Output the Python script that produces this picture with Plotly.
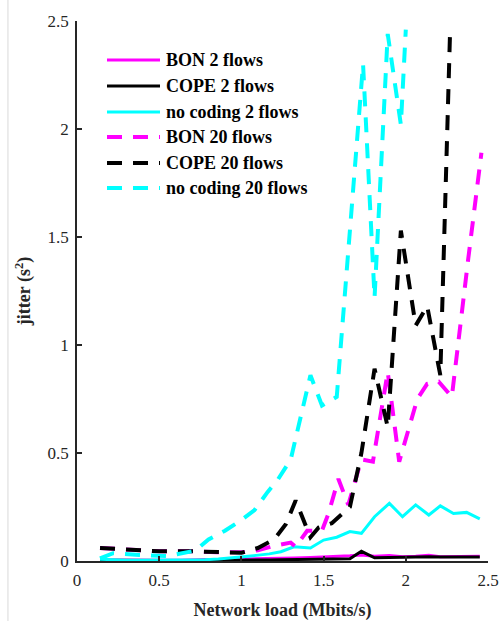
import plotly.graph_objects as go

# ---- data ----
x_2flows = [0.14, 0.22, 0.30, 0.38, 0.46, 0.54, 0.62, 0.70, 0.78, 0.86, 0.93, 1.01, 1.09, 1.17, 1.24,
            1.32, 1.42, 1.50, 1.58, 1.66, 1.73, 1.81, 1.90, 1.98, 2.06, 2.14, 2.21, 2.29, 2.37, 2.45]
bon_2 = [0.005, 0.004, 0.003, 0.003, 0.003, 0.003, 0.003, 0.004, 0.004, 0.005, 0.006, 0.007, 0.009, 0.010, 0.012,
         0.014, 0.016, 0.018, 0.020, 0.024, 0.028, 0.022, 0.025, 0.020, 0.022, 0.026, 0.020, 0.020, 0.021, 0.022]
cope_2 = [0.004, 0.003, 0.002, 0.002, 0.002, 0.002, 0.002, 0.002, 0.002, 0.002, 0.003, 0.003, 0.004, 0.005, 0.006,
          0.007, 0.008, 0.009, 0.010, 0.010, 0.045, 0.015, 0.016, 0.017, 0.020, 0.020, 0.018, 0.017, 0.018, 0.019]
nocoding_2 = [0.008, 0.005, 0.004, 0.003, 0.003, 0.003, 0.003, 0.004, 0.006, 0.009, 0.013, 0.020, 0.026, 0.033, 0.043,
              0.066, 0.060, 0.097, 0.110, 0.136, 0.128, 0.205, 0.267, 0.205, 0.260, 0.213, 0.255, 0.220, 0.225, 0.195]

x_bon_20 = [0.14, 0.30, 0.50, 0.70, 0.85, 1.00, 1.10, 1.20, 1.30, 1.33, 1.40, 1.49, 1.53, 1.59, 1.65,
            1.73, 1.80, 1.89, 1.96, 2.07, 2.13, 2.20, 2.28, 2.38, 2.46]
bon_20 = [0.060, 0.055, 0.045, 0.045, 0.040, 0.040, 0.050, 0.070, 0.085, 0.066, 0.140, 0.140, 0.220, 0.380, 0.260,
          0.470, 0.460, 0.875, 0.460, 0.750, 0.820, 0.830, 0.760, 1.400, 1.890]

x_cope_20 = [0.14, 0.30, 0.50, 0.70, 0.85, 1.00, 1.10, 1.20, 1.27, 1.33, 1.42, 1.47, 1.55, 1.66, 1.73,
             1.81, 1.89, 1.97, 2.06, 2.13, 2.21, 2.27]
cope_20 = [0.060, 0.055, 0.045, 0.045, 0.040, 0.038, 0.060, 0.100, 0.170, 0.280, 0.110, 0.155, 0.175, 0.250, 0.500,
           0.890, 0.620, 1.530, 1.090, 1.180, 0.860, 2.470]

x_nocoding_20 = [0.14, 0.22, 0.38, 0.55, 0.72, 0.80, 0.90, 1.00, 1.08, 1.16, 1.22, 1.30, 1.42, 1.49, 1.58,
                 1.74, 1.81, 1.89, 1.97, 2.00]
nocoding_20 = [0.012, 0.036, 0.028, 0.023, 0.048, 0.100, 0.140, 0.190, 0.236, 0.320, 0.375, 0.470, 0.860, 0.720, 0.760,
               2.300, 1.220, 2.440, 2.020, 2.460]

tick_vals = [0, 0.5, 1, 1.5, 2, 2.5]
tick_text = ["0", "0.5", "1", "1.5", "2", "2.5"]

MAG, BLK, CYA = "#FF00FF", "#000000", "#00FFFF"
DASH = "15px,11px"
FONT = "Liberation Serif, Times New Roman, Times, serif"
AX = "#262626"

fig = go.Figure()
series = [
    ("BON 2 flows", x_2flows, bon_2, MAG, "solid", 3),
    ("COPE 2 flows", x_2flows, cope_2, BLK, "solid", 3),
    ("no coding 2 flows", x_2flows, nocoding_2, CYA, "solid", 3),
    ("BON 20 flows", x_bon_20, bon_20, MAG, DASH, 4),
    ("COPE 20 flows", x_cope_20, cope_20, BLK, DASH, 4),
    ("no coding 20 flows", x_nocoding_20, nocoding_20, CYA, DASH, 4),
]
for name, xs, ys, col, dash, w in series:
    fig.add_trace(go.Scatter(x=xs, y=ys, mode="lines", name=name, showlegend=False,
                             line=dict(color=col, dash=dash, width=w)))

# legend drawn in paper space (longer line samples than the built-in legend)
PW, PH = 411.0, 540.0
def px_to_paper(px, py):
    return (px - 77) / PW, (561 - py) / PH

row_y = [60, 86, 112, 137, 163, 188]
for (name, xs, ys, col, dash, w), ry in zip(series, row_y):
    xa, ya = px_to_paper(107, ry)
    xb, _ = px_to_paper(160, ry)
    fig.add_shape(type="line", xref="paper", yref="paper", x0=xa, x1=xb, y0=ya, y1=ya,
                  line=dict(color=col, dash=dash, width=w))
    xt, _ = px_to_paper(164, ry)
    fig.add_annotation(xref="paper", yref="paper", x=xt, y=ya, xanchor="left", yanchor="middle",
                       text="<b>%s</b>" % name, showarrow=False,
                       font=dict(family=FONT, size=18, color="#000000"))

axis_common = dict(
    range=[0, 2.5], tickvals=tick_vals, ticktext=tick_text, automargin=False,
    showgrid=False, zeroline=False, showline=True, linecolor=AX, linewidth=1.5,
    ticks="inside", ticklen=5, tickwidth=1.5, tickcolor=AX,
    tickfont=dict(family=FONT, size=17, color=AX), mirror=False, ticklabelstandoff=3,
)
fig.update_xaxes(**axis_common,
                 title=dict(text="<b>Network load (Mbits/s)</b>", standoff=16,
                            font=dict(family=FONT, size=18, color=AX)))
fig.update_yaxes(**axis_common,
                 title=dict(text="<b>jitter (s<sup>2</sup>)</b>", standoff=12,
                            font=dict(family=FONT, size=18, color=AX)))

# thin light frame edge at the far left of the reference image
fig.add_shape(type="line", xref="paper", yref="paper", x0=-0.168, x1=-0.168, y0=-0.12, y1=1.04,
              line=dict(color="#d9d9d9", width=1))

fig.update_layout(
    template="none",
    width=501, height=621,
    margin=dict(l=77, r=13, t=21, b=60, autoexpand=False),
    paper_bgcolor="white", plot_bgcolor="white",
    font=dict(family=FONT, color="#000000"),
    showlegend=False,
)
fig.write_html("out.html")
